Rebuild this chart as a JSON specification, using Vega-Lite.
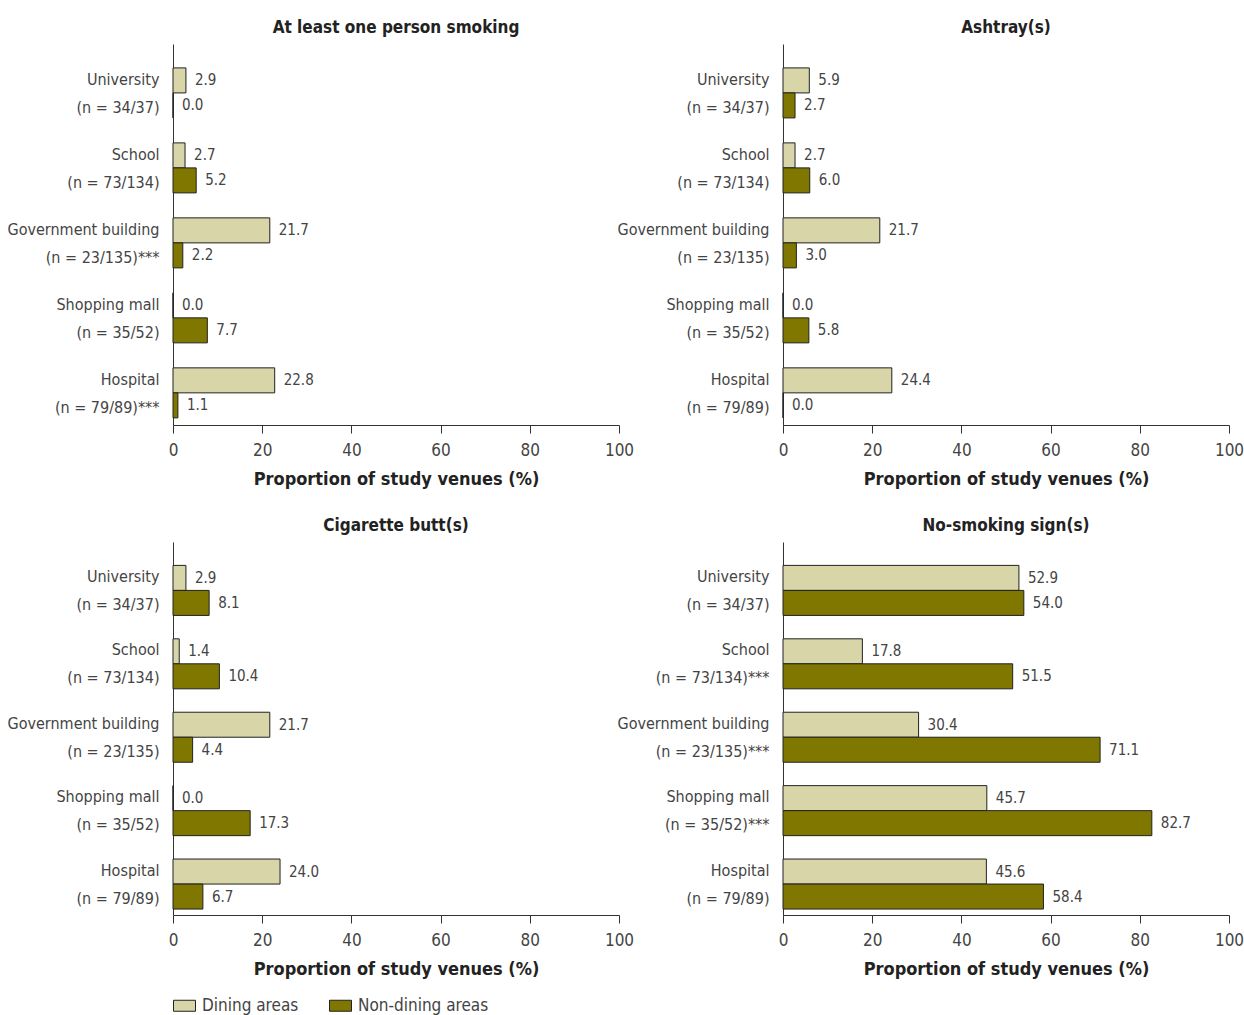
{
  "$schema": "https://vega.github.io/schema/vega-lite/v6.json",
  "padding": {"left": 7, "top": 19, "right": 14, "bottom": 5},
  "bounds": "flush",
  "columns": 2,
  "spacing": {"row": 117, "column": 164},
  "datasets": {
    "d": [
      {"panel": "p1", "venue": "University|(n = 34/37)", "area": "Dining areas", "value": 2.9},
      {"panel": "p1", "venue": "University|(n = 34/37)", "area": "Non-dining areas", "value": 0.0},
      {"panel": "p1", "venue": "School|(n = 73/134)", "area": "Dining areas", "value": 2.7},
      {"panel": "p1", "venue": "School|(n = 73/134)", "area": "Non-dining areas", "value": 5.2},
      {"panel": "p1", "venue": "Government building|(n = 23/135)***", "area": "Dining areas", "value": 21.7},
      {"panel": "p1", "venue": "Government building|(n = 23/135)***", "area": "Non-dining areas", "value": 2.2},
      {"panel": "p1", "venue": "Shopping mall|(n = 35/52)", "area": "Dining areas", "value": 0.0},
      {"panel": "p1", "venue": "Shopping mall|(n = 35/52)", "area": "Non-dining areas", "value": 7.7},
      {"panel": "p1", "venue": "Hospital|(n = 79/89)***", "area": "Dining areas", "value": 22.8},
      {"panel": "p1", "venue": "Hospital|(n = 79/89)***", "area": "Non-dining areas", "value": 1.1},

      {"panel": "p2", "venue": "University|(n = 34/37)", "area": "Dining areas", "value": 5.9},
      {"panel": "p2", "venue": "University|(n = 34/37)", "area": "Non-dining areas", "value": 2.7},
      {"panel": "p2", "venue": "School|(n = 73/134)", "area": "Dining areas", "value": 2.7},
      {"panel": "p2", "venue": "School|(n = 73/134)", "area": "Non-dining areas", "value": 6.0},
      {"panel": "p2", "venue": "Government building|(n = 23/135)", "area": "Dining areas", "value": 21.7},
      {"panel": "p2", "venue": "Government building|(n = 23/135)", "area": "Non-dining areas", "value": 3.0},
      {"panel": "p2", "venue": "Shopping mall|(n = 35/52)", "area": "Dining areas", "value": 0.0},
      {"panel": "p2", "venue": "Shopping mall|(n = 35/52)", "area": "Non-dining areas", "value": 5.8},
      {"panel": "p2", "venue": "Hospital|(n = 79/89)", "area": "Dining areas", "value": 24.4},
      {"panel": "p2", "venue": "Hospital|(n = 79/89)", "area": "Non-dining areas", "value": 0.0},

      {"panel": "p3", "venue": "University|(n = 34/37)", "area": "Dining areas", "value": 2.9},
      {"panel": "p3", "venue": "University|(n = 34/37)", "area": "Non-dining areas", "value": 8.1},
      {"panel": "p3", "venue": "School|(n = 73/134)", "area": "Dining areas", "value": 1.4},
      {"panel": "p3", "venue": "School|(n = 73/134)", "area": "Non-dining areas", "value": 10.4},
      {"panel": "p3", "venue": "Government building|(n = 23/135)", "area": "Dining areas", "value": 21.7},
      {"panel": "p3", "venue": "Government building|(n = 23/135)", "area": "Non-dining areas", "value": 4.4},
      {"panel": "p3", "venue": "Shopping mall|(n = 35/52)", "area": "Dining areas", "value": 0.0},
      {"panel": "p3", "venue": "Shopping mall|(n = 35/52)", "area": "Non-dining areas", "value": 17.3},
      {"panel": "p3", "venue": "Hospital|(n = 79/89)", "area": "Dining areas", "value": 24.0},
      {"panel": "p3", "venue": "Hospital|(n = 79/89)", "area": "Non-dining areas", "value": 6.7},

      {"panel": "p4", "venue": "University|(n = 34/37)", "area": "Dining areas", "value": 52.9},
      {"panel": "p4", "venue": "University|(n = 34/37)", "area": "Non-dining areas", "value": 54.0},
      {"panel": "p4", "venue": "School|(n = 73/134)***", "area": "Dining areas", "value": 17.8},
      {"panel": "p4", "venue": "School|(n = 73/134)***", "area": "Non-dining areas", "value": 51.5},
      {"panel": "p4", "venue": "Government building|(n = 23/135)***", "area": "Dining areas", "value": 30.4},
      {"panel": "p4", "venue": "Government building|(n = 23/135)***", "area": "Non-dining areas", "value": 71.1},
      {"panel": "p4", "venue": "Shopping mall|(n = 35/52)***", "area": "Dining areas", "value": 45.7},
      {"panel": "p4", "venue": "Shopping mall|(n = 35/52)***", "area": "Non-dining areas", "value": 82.7},
      {"panel": "p4", "venue": "Hospital|(n = 79/89)", "area": "Dining areas", "value": 45.6},
      {"panel": "p4", "venue": "Hospital|(n = 79/89)", "area": "Non-dining areas", "value": 58.4}
    ]
  },
  "config": {
    "font": "DejaVu Sans Condensed, sans-serif",
    "view": {"stroke": null},
    "axis": {"grid": false, "domainColor": "#333", "tickColor": "#333", "labelColor": "#444", "labelFontSize": 17, "titleFontSize": 18, "titleFontWeight": "bold", "titleColor": "#222"},
    "axisY": {"ticks": false, "labelPadding": 14, "labelLineHeight": 28, "labelFontSize": 16, "labelOffset": -13, "labelLimit": 300},
    "axisX": {"tickSize": 8, "labelPadding": 9, "titlePadding": 12, "labelFlush": false},
    "title": {"fontSize": 17, "fontWeight": "bold", "color": "#222", "anchor": "middle", "offset": 7},
    "legend": {"orient": "none", "legendX": 0, "legendY": 950, "direction": "horizontal", "title": null, "labelFontSize": 17, "labelColor": "#444", "symbolType": "M-1,-0.5H1V0.5H-1Z", "symbolSize": 484, "symbolStrokeColor": "#222", "symbolStrokeWidth": 1, "symbolOpacity": 1, "columnPadding": 28, "labelOffset": 6}
  },
  "concat": [
    {
      "title": "At least one person smoking",
      "width": 446, "height": 381,
      "data": {"name": "d"},
      "transform": [{"filter": "datum.panel === 'p1'"}],
      "encoding": {
        "y": {"field": "venue", "type": "nominal", "sort": null, "title": null, "scale": {"paddingInner": 0.333, "paddingOuter": 0.207, "align": 0.77}, "axis": {"labelExpr": "split(datum.value, '|')"}},
        "yOffset": {"field": "area", "type": "nominal", "sort": ["Dining areas", "Non-dining areas"]},
        "x": {"field": "value", "type": "quantitative", "title": "Proportion of study venues (%)", "scale": {"domain": [0, 100], "nice": false}, "axis": {"values": [0, 20, 40, 60, 80, 100]}}
      },
      "layer": [
        {"mark": {"type": "bar", "stroke": "#222", "strokeWidth": 1}, "encoding": {"color": {"field": "area", "type": "nominal", "scale": {"domain": ["Dining areas", "Non-dining areas"], "range": ["#d8d5a8", "#807700"]}}}},
        {"mark": {"type": "text", "align": "left", "baseline": "middle", "dx": 9, "fontSize": 15, "color": "#444"}, "encoding": {"text": {"field": "value", "type": "quantitative", "format": ".1f"}}}
      ]
    },
    {
      "title": "Ashtray(s)",
      "width": 446, "height": 381,
      "data": {"name": "d"},
      "transform": [{"filter": "datum.panel === 'p2'"}],
      "encoding": {
        "y": {"field": "venue", "type": "nominal", "sort": null, "title": null, "scale": {"paddingInner": 0.333, "paddingOuter": 0.207, "align": 0.77}, "axis": {"labelExpr": "split(datum.value, '|')"}},
        "yOffset": {"field": "area", "type": "nominal", "sort": ["Dining areas", "Non-dining areas"]},
        "x": {"field": "value", "type": "quantitative", "title": "Proportion of study venues (%)", "scale": {"domain": [0, 100], "nice": false}, "axis": {"values": [0, 20, 40, 60, 80, 100]}}
      },
      "layer": [
        {"mark": {"type": "bar", "stroke": "#222", "strokeWidth": 1}, "encoding": {"color": {"field": "area", "type": "nominal", "scale": {"domain": ["Dining areas", "Non-dining areas"], "range": ["#d8d5a8", "#807700"]}}}},
        {"mark": {"type": "text", "align": "left", "baseline": "middle", "dx": 9, "fontSize": 15, "color": "#444"}, "encoding": {"text": {"field": "value", "type": "quantitative", "format": ".1f"}}}
      ]
    },
    {
      "title": "Cigarette butt(s)",
      "width": 446, "height": 373,
      "data": {"name": "d"},
      "transform": [{"filter": "datum.panel === 'p3'"}],
      "encoding": {
        "y": {"field": "venue", "type": "nominal", "sort": null, "title": null, "scale": {"paddingInner": 0.333, "paddingOuter": 0.207, "align": 0.77}, "axis": {"labelExpr": "split(datum.value, '|')"}},
        "yOffset": {"field": "area", "type": "nominal", "sort": ["Dining areas", "Non-dining areas"]},
        "x": {"field": "value", "type": "quantitative", "title": "Proportion of study venues (%)", "scale": {"domain": [0, 100], "nice": false}, "axis": {"values": [0, 20, 40, 60, 80, 100]}}
      },
      "layer": [
        {"mark": {"type": "bar", "stroke": "#222", "strokeWidth": 1}, "encoding": {"color": {"field": "area", "type": "nominal", "scale": {"domain": ["Dining areas", "Non-dining areas"], "range": ["#d8d5a8", "#807700"]}}}},
        {"mark": {"type": "text", "align": "left", "baseline": "middle", "dx": 9, "fontSize": 15, "color": "#444"}, "encoding": {"text": {"field": "value", "type": "quantitative", "format": ".1f"}}}
      ]
    },
    {
      "title": "No-smoking sign(s)",
      "width": 446, "height": 373,
      "data": {"name": "d"},
      "transform": [{"filter": "datum.panel === 'p4'"}],
      "encoding": {
        "y": {"field": "venue", "type": "nominal", "sort": null, "title": null, "scale": {"paddingInner": 0.333, "paddingOuter": 0.207, "align": 0.77}, "axis": {"labelExpr": "split(datum.value, '|')"}},
        "yOffset": {"field": "area", "type": "nominal", "sort": ["Dining areas", "Non-dining areas"]},
        "x": {"field": "value", "type": "quantitative", "title": "Proportion of study venues (%)", "scale": {"domain": [0, 100], "nice": false}, "axis": {"values": [0, 20, 40, 60, 80, 100]}}
      },
      "layer": [
        {"mark": {"type": "bar", "stroke": "#222", "strokeWidth": 1}, "encoding": {"color": {"field": "area", "type": "nominal", "scale": {"domain": ["Dining areas", "Non-dining areas"], "range": ["#d8d5a8", "#807700"]}}}},
        {"mark": {"type": "text", "align": "left", "baseline": "middle", "dx": 9, "fontSize": 15, "color": "#444"}, "encoding": {"text": {"field": "value", "type": "quantitative", "format": ".1f"}}}
      ]
    }
  ]
}
